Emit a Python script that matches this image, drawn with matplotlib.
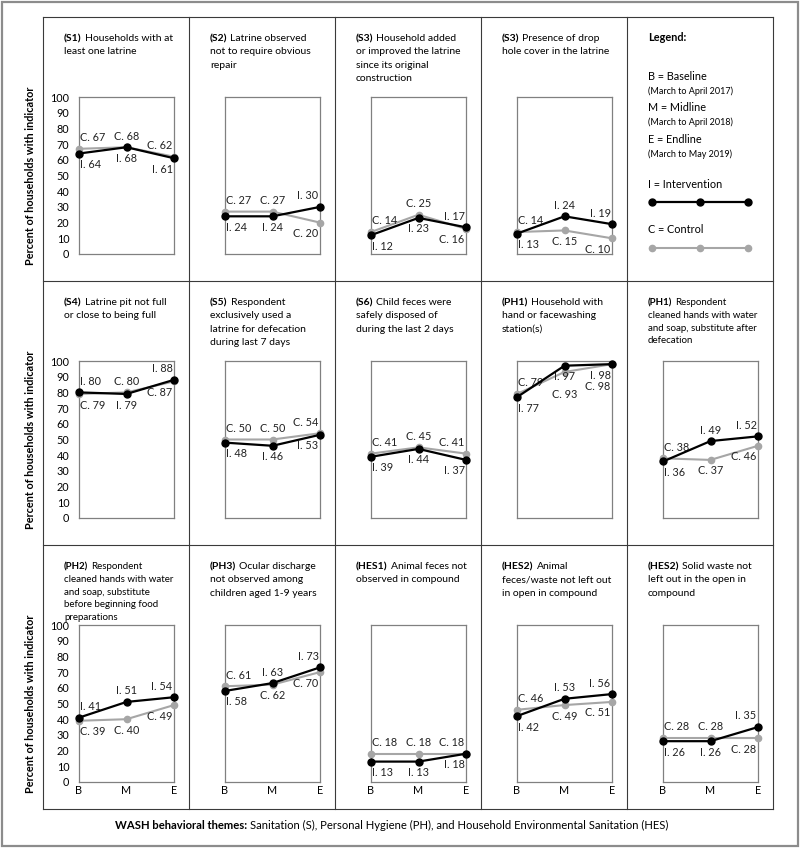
import matplotlib
matplotlib.use("Agg")
import matplotlib.pyplot as plt
from matplotlib.lines import Line2D
from matplotlib.patches import Rectangle

plt.rcParams['font.family'] = ['Lato', 'DejaVu Sans']

# -------------------------
# Data
# -------------------------
rounds = ['B', 'M', 'E']
codes = ['S1', 'S2', 'S3', 'S3',
         'S4', 'S5', 'S6', 'PH1', 'PH1',
         'PH2', 'PH3', 'HES1', 'HES2', 'HES2']
titles = [
    'Households with at\nleast one latrine',
    'Latrine observed\nnot to require obvious\nrepair',
    'Household added\nor improved the latrine\nsince its original\nconstruction',
    'Presence of drop\nhole cover in the latrine',
    'Latrine pit not full\nor close to being full',
    'Respondent\nexclusively used a\nlatrine for defecation\nduring last 7 days',
    'Child feces were\nsafely disposed of\nduring the last 2 days',
    'Household with\nhand or facewashing\nstation(s)',
    'Respondent\ncleaned hands with water\nand soap, substitute after\ndefecation',
    'Respondent\ncleaned hands with water\nand soap, substitute\nbefore beginning food\npreparations',
    'Ocular discharge\nnot observed among\nchildren aged 1-9 years',
    'Animal feces not\nobserved in compound',
    'Animal\nfeces/waste not left out\nin open in compound',
    'Solid waste not\nleft out in the open in\ncompound',
]
intervention = [
    [64, 68, 61], [24, 24, 30], [12, 23, 17], [13, 24, 19],
    [80, 79, 88], [48, 46, 53], [39, 44, 37], [77, 97, 98], [36, 49, 52],
    [41, 51, 54], [58, 63, 73], [13, 13, 18], [42, 53, 56], [26, 26, 35],
]
control = [
    [67, 68, 62], [27, 27, 20], [14, 25, 16], [14, 15, 10],
    [79, 80, 87], [50, 50, 54], [41, 45, 41], [79, 93, 98], [38, 37, 46],
    [39, 40, 49], [61, 62, 70], [18, 18, 18], [46, 49, 51], [28, 28, 28],
]
# which series gets its label above the point ('-' = both below, stacked)
label_top = [
    'CCC', 'CCI', 'CCI', 'CII',
    'ICI', 'CCC', 'CCC', 'C--', 'CII',
    'III', 'CII', 'CCC', 'CII', 'CCI',
]
# panel slots (row, col); column 4 of row 0 is the legend
slots = [(0, 0), (0, 1), (0, 2), (0, 3),
         (1, 0), (1, 1), (1, 2), (1, 3), (1, 4),
         (2, 0), (2, 1), (2, 2), (2, 3), (2, 4)]
# long titles are set a little smaller
title_size = [7.5] * 14
title_size[8] = 7.0
title_size[9] = 7.0

# -------------------------
# Layout (pixels)
# -------------------------
W, H = 800, 848
col_x = [43, 189, 335, 481, 627, 773]
row_y = [17, 281, 545, 809]
I_COL = 'black'
C_COL = '#a6a6a6'
FS = 7.8

fig = plt.figure(figsize=(W / 100, H / 100), dpi=100)
bg = fig.add_axes([0, 0, 1, 1])
bg.set_xlim(0, W)
bg.set_ylim(H, 0)
bg.axis('off')

# outer frame and grid
bg.add_patch(Rectangle((2, 2), W - 4, H - 4, fill=False, ec='#8c8c8c', lw=1.6))
for x in col_x:
    bg.plot([x, x], [row_y[0], row_y[-1]], color='#3a3a3a', lw=0.8)
for y in row_y:
    bg.plot([col_x[0], col_x[-1]], [y, y], color='#3a3a3a', lw=0.8)

renderer = fig.canvas.get_renderer()


def rich_text(x, y, bold, rest, size=FS):
    """bold part followed by normal text on the same baseline (pixel coords)"""
    t = bg.text(x, y, bold, fontsize=size, fontweight='bold', va='baseline', ha='left')
    w = t.get_window_extent(renderer).width
    bg.text(x + w + 3, y, rest, fontsize=size, va='baseline', ha='left')


for k, (r, c) in enumerate(slots):
    x0 = col_x[c]
    y0 = row_y[r]

    # panel title
    lines = titles[k].split('\n')
    ts = title_size[k]
    step = 13.4 if ts > 7.2 else 12.8
    rich_text(x0 + 21, y0 + 24, '(' + codes[k] + ')', lines[0], size=ts)
    for j, ln in enumerate(lines[1:], start=1):
        bg.text(x0 + 21, y0 + 24 + step * j, ln, fontsize=ts, va='baseline', ha='left')

    # plot box
    left, top, bw, bh = x0 + 36, y0 + 80, 95, 157
    ax = fig.add_axes([left / W, 1 - (top + bh) / H, bw / W, bh / H])
    ax.set_xlim(0, 2)
    ax.set_ylim(0, 100)
    ax.patch.set_alpha(0)
    for s in ax.spines.values():
        s.set_color('#808080')
        s.set_linewidth(0.9)
    ax.tick_params(length=0, labelsize=FS, pad=7)
    ax.set_yticks(range(0, 101, 10))
    ax.set_xticks(range(3))
    ax.set_xticklabels(rounds)
    if c != 0:
        ax.set_yticklabels([])
    else:
        ax.set_ylabel('Percent of households with indicator', fontsize=FS,
                      fontweight='bold', labelpad=10)
    if r != 2:
        ax.set_xticklabels([])
    else:
        ax.tick_params(axis='x', pad=2)

    xs = range(3)
    ax.plot(xs, control[k], color=C_COL, lw=1.5, marker='o', ms=4.5,
            clip_on=False, zorder=3)
    ax.plot(xs, intervention[k], color=I_COL, lw=1.6, marker='o', ms=5,
            clip_on=False, zorder=4)

    # value labels
    for i in xs:
        top_s = label_top[k][i]
        ha = ['left', 'center', 'right'][i]
        dx = [1, 0, -1][i]
        for name, vals in (('I', intervention[k]), ('C', control[k])):
            if top_s == '-':
                dy = -4 if name == 'I' else -12
                va = 'top'
            elif top_s == name:
                dy, va = 4, 'bottom'
            else:
                dy, va = -4, 'top'
            ax.annotate(f'{name}. {vals[i]}', (i, vals[i]), xytext=(dx, dy),
                        textcoords='offset points', ha=ha, va=va, fontsize=FS,
                        color='#222222')

# -------------------------
# Legend panel
# -------------------------
lx = col_x[4] + 21
bg.text(lx, 41, 'Legend:', fontsize=FS, fontweight='bold', va='baseline')
legend_rows = [
    ('B = Baseline', '(March to April 2017)', 80),
    ('M = Midline', '(March to April 2018)', 111),
    ('E = Endline', '(March to May 2019)', 143),
]
for main, sub, y in legend_rows:
    bg.text(lx, y, main, fontsize=FS, va='baseline')
    bg.text(lx, y + 14, sub, fontsize=6.5, va='baseline')
bg.text(lx, 188, 'I = Intervention', fontsize=FS, va='baseline')
bg.add_line(Line2D([652, 700, 748], [202, 202, 202], color=I_COL, lw=1.6,
                   marker='o', ms=5))
bg.text(lx, 233, 'C = Control', fontsize=FS, va='baseline')
bg.add_line(Line2D([652, 700, 748], [248, 248, 248], color=C_COL, lw=1.5,
                   marker='o', ms=4.5))

# footer
rich_text(115, 829, 'WASH behavioral themes:',
          'Sanitation (S), Personal Hygiene (PH), and Household Environmental Sanitation (HES)',
          size=8.1)

fig.savefig('out.png', dpi=100)
